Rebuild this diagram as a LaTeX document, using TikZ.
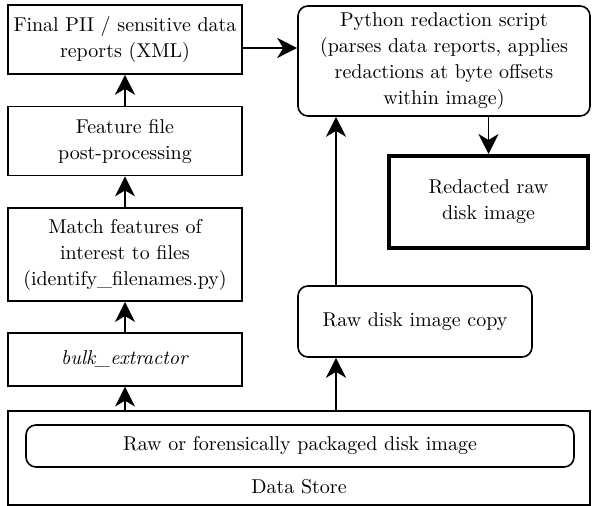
\documentclass[tikz,border=0pt]{standalone}
\usepackage{fontspec}
\usetikzlibrary{positioning}
\usetikzlibrary{arrows.meta}
\tikzstyle{line} = [draw, line width=0.8pt, -{Stealth[length=10pt,width=10pt,inset=3pt]}]

\begin{document}
\begin{tikzpicture}[x=0.5pt, y=-0.5pt, font=\fontsize{10}{13}\selectfont,
				internal/.style={draw, rectangle, line width=0.8pt, minimum width=117pt, inner sep=1pt, align=center},
				rounded/.style={internal, rounded corners=5pt}]

				\useasboundingbox (0,0) rectangle (594,506);

				\node (node1) at (125, 39.5) [internal, minimum height=34.5pt] {Final PII / sensitive data\\reports (XML)};
				\node[below=15.5pt of node1] (node2) [internal, minimum height=34.5pt] {Feature file\\post-processing};
				\node[below=15.5pt of node2] (node3) [internal, minimum height=46.5pt] {Match features of\\interest to files\\(identify\_filenames.py)};
				\node[below=15pt of node3] (node4) [internal, minimum height=26.5pt] {\textit{bulk\_extractor}};

				\node (node5) at (444, 61) [rounded, minimum width=146pt, minimum height=55pt] {Python redaction script\\(parses data reports, applies\\redactions at byte offsets\\within image)};
				\node (node6) at (488.5, 202) [internal, line width=2pt, minimum width=99.5pt, minimum height=46pt] {Redacted raw\\disk image};
				\node (node7) at (415, 321.5) [rounded, minimum height=35.5pt] {Raw disk image copy};

				\node (node8) at (299, 458) [draw, line width=0.8pt, minimum width=291pt, minimum height=47pt] {};
				\node (node9) at (300, 446) [rounded, minimum width=274pt, minimum height=21pt] {Raw or forensically packaged disk image};
				\node (node10) at (299, 487) {Data Store};

				\draw [line] (node2) -- (node1);
				\draw [line] (node3) -- (node2);
				\draw [line] (node4) -- (node3);
				\draw [line] (node4.south |- node8.north) -- (node4.south);
				\draw [line] (node1.east |- 0,48) -- (node5.west |- 0,48);
				\draw [line] (node6.north |- node5.south) -- (node6.north);
				\draw [line] (node8.north -| 336,0) -- (node7.south -| 336,0);
				\draw [line] (node7.north -| 336,0) -- (node5.south -| 336,0);

\end{tikzpicture}
\end{document}
